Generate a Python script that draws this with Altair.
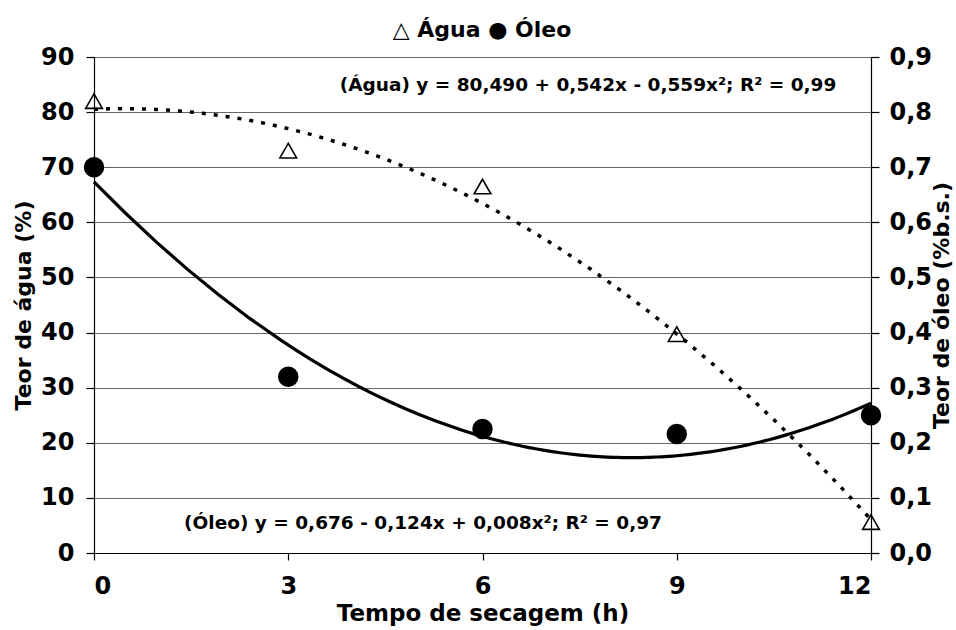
import altair as alt
import pandas as pd

tempo = [0, 3, 6, 9, 12]
agua = [82.0, 73.0, 66.5, 39.7, 5.6]
oleo = [0.700, 0.320, 0.225, 0.216, 0.250]

legend_text = "△ Água ● Óleo"
eq_agua = "(Água) y = 80,490 + 0,542x - 0,559x²; R²  = 0,99"
eq_oleo = "(Óleo) y = 0,676 - 0,124x + 0,008x²; R²  = 0,97"

df = pd.DataFrame({"tempo": tempo, "agua": agua, "oleo": oleo})

FONT = "DejaVu Sans"
LAB = 24

common = dict(labelFont=FONT, titleFont=FONT, labelFontWeight="bold", titleFontWeight="bold",
              domainColor="black", tickColor="black", labelColor="black", titleColor="black",
              domainWidth=1.2, tickWidth=1.2)

x_enc = alt.X("tempo:Q", scale=alt.Scale(domain=[0, 12], nice=False, zero=False),
              axis=alt.Axis(values=[0, 3, 6, 9, 12], grid=False, title="Tempo de secagem (h)",
                            tickSize=7, labelPadding=14, titlePadding=4,
                            labelFontSize=LAB, titleFontSize=23, **common))

y_left = alt.Y("agua:Q", scale=alt.Scale(domain=[0, 90], nice=False),
               axis=alt.Axis(values=list(range(0, 100, 10)), grid=True, gridColor="#666",
                             gridWidth=1.2, title="Teor de água (%)", orient="left",
                             tickSize=8, labelPadding=12, titlePadding=5,
                             labelFontSize=LAB, titleFontSize=22, **common))

y_right = alt.Y("oleo:Q", scale=alt.Scale(domain=[0, 0.9], nice=False),
                axis=alt.Axis(values=[0, 0.1, 0.2, 0.3, 0.4, 0.5, 0.6, 0.7, 0.8, 0.9], grid=False,
                              title="Teor de óleo (%b.s.)", orient="right", titleAngle=270,
                              titleBaseline="top",
                              labelExpr="replace(format(datum.value, '.1f'), '.', ',')",
                              tickSize=8, labelPadding=10, titlePadding=0,
                              labelFontSize=LAB, titleFontSize=22, **common))

water_line = alt.Chart(df).transform_regression(
    "tempo", "agua", method="poly", order=2, extent=[0, 12]
).mark_line(color="black", strokeWidth=3.5, strokeDash=[4, 8]).encode(x=x_enc, y=y_left)

water_pts = alt.Chart(df).mark_point(
    shape="triangle-up", filled=False, color="black", size=280, strokeWidth=1.6, opacity=1
).encode(x=x_enc, y=y_left)

oil_line = alt.Chart(df).transform_regression(
    "tempo", "oleo", method="poly", order=2, extent=[0, 12]
).mark_line(color="black", strokeWidth=3.2).encode(x=x_enc, y=y_right)

oil_pts = alt.Chart(df).mark_circle(color="black", size=420, opacity=1).encode(x=x_enc, y=y_right)

left = alt.layer(water_line, water_pts)
right = alt.layer(oil_line, oil_pts)

txt_style = dict(font=FONT, fontWeight="bold", fontSize=18.5, color="black", align="center",
                 baseline="middle")

t_agua = alt.Chart(pd.DataFrame({"t": [eq_agua]})).mark_text(**txt_style).encode(
    text="t:N", x=alt.value(494), y=alt.value(28))
t_oleo = alt.Chart(pd.DataFrame({"t": [eq_oleo]})).mark_text(**txt_style).encode(
    text="t:N", x=alt.value(329), y=alt.value(466))
t_leg = alt.Chart(pd.DataFrame({"t": [legend_text]})).mark_text(
    font=FONT, fontWeight="bold", fontSize=22, color="black", align="center", baseline="middle"
).encode(text="t:N", x=alt.value(388), y=alt.value(-27))

chart = alt.layer(left, right, t_agua, t_oleo, t_leg).resolve_scale(y="independent").properties(
    width=777, height=496, autosize="none",
    padding={"left": 94, "top": 57, "right": 85, "bottom": 77},
    background="white"
).configure_view(stroke=None)

chart.save("out.html", embed_options={"renderer": "svg", "actions": False})
